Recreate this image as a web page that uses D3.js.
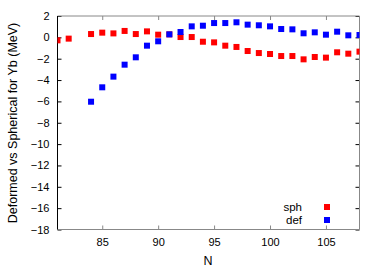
<!DOCTYPE html>
<html><head><meta charset="utf-8">
<script src="https://cdn.jsdelivr.net/npm/d3@7"></script>
<style>body{margin:0;background:#fff}svg{display:block}text{font-family:"Liberation Sans",Arial,sans-serif;fill:#000}</style>
</head><body>
<script>
const sphN = [81,82,84,85,86,87,88,89,90,91,92,93,94,95,96,97,98,99,100,101,102,103,104,105,106,107,108];
const sphV = [-0.28,-0.12,0.31,0.44,0.37,0.6,0.31,0.56,0.25,0.28,0.03,0.03,-0.41,-0.47,-0.78,-0.9,-1.28,-1.47,-1.56,-1.75,-1.75,-2.06,-1.84,-1.9,-1.4,-1.53,-1.34];
const defN = [84,85,86,87,88,89,90,91,92,93,94,95,96,97,98,99,100,101,102,103,104,105,106,107,108];
const defV = [-6.03,-4.68,-3.68,-2.56,-1.87,-0.78,-0.37,0.28,0.5,1.03,1.09,1.34,1.34,1.41,1.19,1.13,1.03,0.78,0.75,0.38,0.47,0.25,0.53,0.19,0.22];
const xTicks = [85,90,95,100,105];
const yTicks = [2,0,-2,-4,-6,-8,-10,-12,-14,-16,-18];
const seriesNames = ["sph","def"];
const seriesColors = ["#ff0000","#0000ff"];

const W=382,H=268, L=57.5,R=359.5,T=16,B=229.5;
const svg=d3.select("body").append("svg").attr("width",W).attr("height",H);
const x=d3.scaleLinear().domain([81,108]).range([L,R]);
const y=d3.scaleLinear().domain([-18,2]).range([B,T]);
const fs=11;

svg.append("clipPath").attr("id","c").append("rect").attr("x",L).attr("y",T).attr("width",R-L).attr("height",B-T);

const gL=svg.append("g").attr("transform",`translate(${L},0)`).call(d3.axisLeft(y).tickValues(yTicks).tickSize(-4).tickPadding(8).tickFormat(d3.format("d")));
const gR=svg.append("g").attr("transform",`translate(${R},0)`).call(d3.axisRight(y).tickValues(yTicks).tickSize(-4).tickFormat(""));
const gB=svg.append("g").attr("transform",`translate(0,${B})`).call(d3.axisBottom(x).tickValues(xTicks).tickSize(-4).tickPadding(9));
const gT=svg.append("g").attr("transform",`translate(0,${T})`).call(d3.axisTop(x).tickValues(xTicks).tickSize(-4).tickFormat(""));
[gL,gR,gB,gT].forEach(g=>{g.select(".domain").remove();g.selectAll("text").attr("font-size",fs).attr("font-family","Liberation Sans, Arial, sans-serif").attr("fill","#000");});
gL.selectAll("line").attr("stroke","#000");
gR.selectAll("line").attr("stroke","#000");
gB.selectAll("line").attr("stroke","#888");
gT.selectAll("line").attr("stroke","#888");
svg.append("line").attr("x1",L).attr("x2",R).attr("y1",T).attr("y2",T).attr("stroke","#888");
svg.append("line").attr("x1",L).attr("x2",R).attr("y1",B).attr("y2",B).attr("stroke","#888");
svg.append("line").attr("x1",R).attr("x2",R).attr("y1",T).attr("y2",B).attr("stroke","#888");
svg.append("line").attr("x1",L).attr("x2",L).attr("y1",T).attr("y2",B).attr("stroke","#000");

const s=6;
const plot=svg.append("g").attr("clip-path","url(#c)");
const data=[sphN.map((n,i)=>({n,v:sphV[i]})), defN.map((n,i)=>({n,v:defV[i]}))];
data.forEach((d,k)=>{
  plot.selectAll(null).data(d).enter().append("rect")
   .attr("x",p=>x(p.n)-s/2).attr("y",p=>y(p.v)-s/2).attr("width",s).attr("height",s).attr("fill",seriesColors[k]);
});

seriesNames.forEach((nm,k)=>{
  const ly=207+k*13;
  svg.append("text").attr("x",302).attr("y",ly).attr("dy","0.35em").attr("text-anchor","end").attr("font-size",11.5).text(nm);
  svg.append("rect").attr("x",327-s/2).attr("y",ly-s/2).attr("width",s).attr("height",s).attr("fill",seriesColors[k]);
});

svg.append("text").attr("x",208).attr("y",261).attr("dy","0.35em").attr("text-anchor","middle").attr("font-size",12.5).text("N");
svg.append("text").attr("transform","translate(13,123) rotate(-90)").attr("dy","0.35em").attr("text-anchor","middle").attr("font-size",12.5).text("Deformed vs Spherical for Yb (MeV)");
</script>
</body></html>
